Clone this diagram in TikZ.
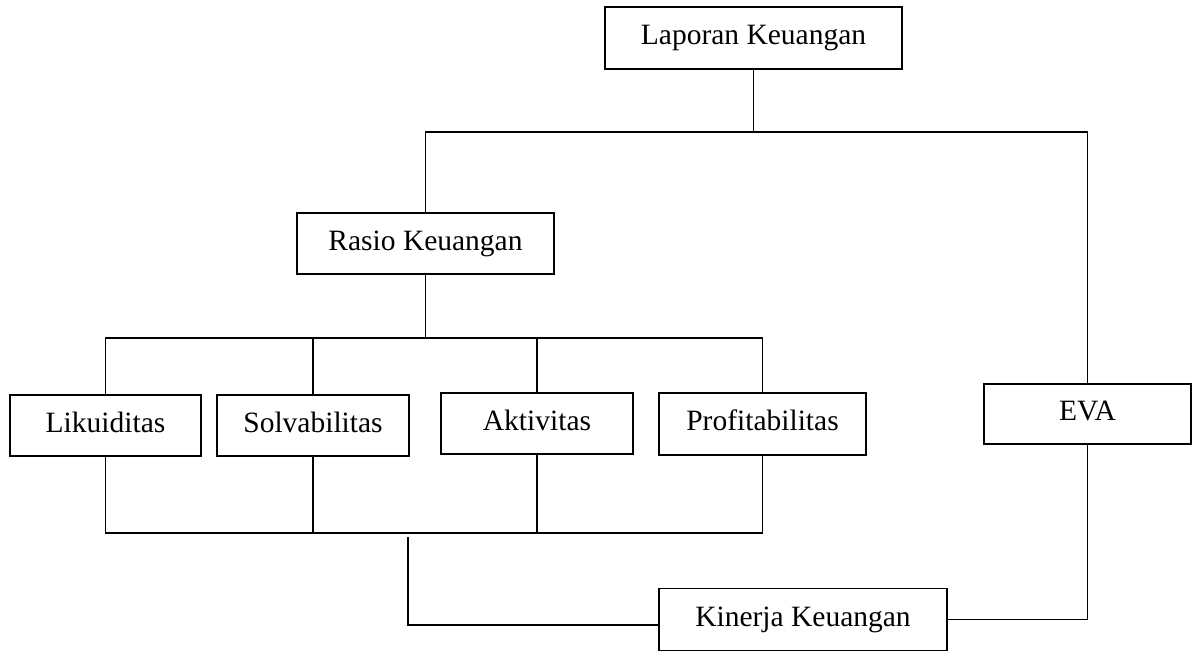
\documentclass[tikz,border=0pt]{standalone}
\usepackage{fontspec}
\setmainfont{Liberation Serif}
\begin{document}
\begin{tikzpicture}[x=1pt,y=1pt,
  box/.style={draw=black,line width=1.9pt,inner sep=0pt,
    font=\fontsize{29.5}{35}\selectfont,
    text height=20pt,text depth=6.5pt},
  conn/.style={draw=black,line width=1.9pt}]
\clip (0,0) rectangle (1193,-650);
\fill[white] (0,0) rectangle (1193,-650);
% boxes
\node[box,minimum width=297pt,minimum height=62pt] (lap) at (753.5,-38) {Laporan Keuangan};
\node[box,minimum width=257pt,minimum height=61pt] (rasio) at (425.5,-243.5) {Rasio Keuangan};
\node[box,minimum width=191pt,minimum height=61pt] (lik) at (105.5,-425.5) {Likuiditas};
\node[box,minimum width=192pt,minimum height=61pt] (sol) at (313,-425.5) {Solvabilitas};
\node[box,minimum width=192pt,minimum height=61pt] (akt) at (537,-423.5) {Aktivitas};
\node[box,minimum width=207pt,minimum height=62pt] (pro) at (762.5,-424) {Profitabilitas};
\node[box,minimum width=207pt,minimum height=60pt] (eva) at (1087.5,-414) {EVA};
\node[box,minimum width=288pt,minimum height=62pt] (kin) at (803,-619.5) {Kinerja Keuangan};
% junctions
\coordinate (t) at (753.5,-132);
\coordinate (m) at (425.5,-338);
\coordinate (b) at (0,-533);
\coordinate (k1) at (408,-537);
\coordinate (k2) at (408,-625);
% connectors
\draw[conn] (lap.south) -- (t);
\draw[conn] (rasio.north) |- (t) -| (eva.north);
\draw[conn] (rasio.south) -- (m);
\draw[conn] (lik.north) |- (m) -| (pro.north);
\draw[conn] (sol.north) -- (sol.north |- m);
\draw[conn] (akt.north) -- (akt.north |- m);
\draw[conn] (lik.south) -- (lik.south |- b) -- (pro.south |- b) -- (pro.south);
\draw[conn] (sol.south) -- (sol.south |- b);
\draw[conn] (akt.south) -- (akt.south |- b);
\draw[conn] (k1) -- (k2) -- (k2 -| kin.west);
\draw[conn] (eva.south) |- (kin.east);
\end{tikzpicture}
\end{document}
